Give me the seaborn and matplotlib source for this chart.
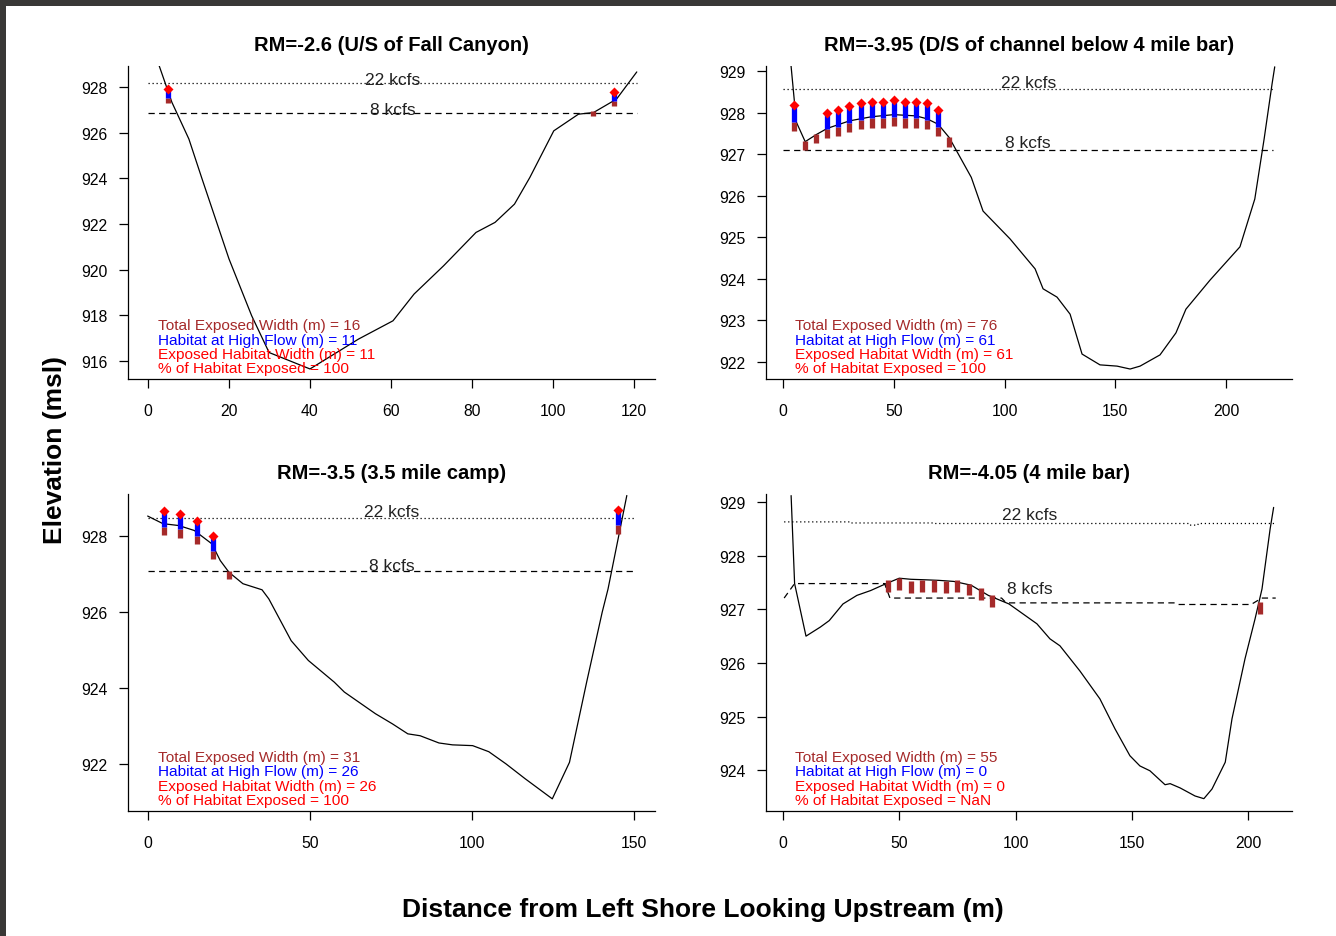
import numpy as np
import matplotlib
matplotlib.use("Agg")
import matplotlib.pyplot as plt
import matplotlib.patches as mpatches
import seaborn as sns

sns.set_theme(style="ticks")
plt.rcParams['font.family'] = ['Liberation Sans', 'DejaVu Sans']

# ---------------- data ----------------
titles = ["RM=-2.6 (U/S of Fall Canyon)",
          "RM=-3.95 (D/S of channel below 4 mile bar)",
          "RM=-3.5 (3.5 mile camp)",
          "RM=-4.05 (4 mile bar)"]

# Panel 1 profile
p1_x = [2.7, 5.9, 10.1, 13.3, 20.0, 25.6, 29.9, 40.0, 52.0, 60.5, 65.7, 73.0, 81.0, 85.7, 90.5, 94.3, 100.2, 106.3, 110.0, 115.7, 120.7]
p1_z = [928.96, 927.33, 925.72, 924.0, 920.47, 917.98, 916.37, 915.65, 916.96, 917.76, 918.93, 920.17, 921.63, 922.07, 922.87, 924.04, 926.08, 926.81, 926.88, 927.47, 928.66]
p1_q22_x = [0.0, 120.7]
p1_q22_z = [928.18, 928.18]
p1_q8_x = [0.0, 120.7]
p1_q8_z = [926.87, 926.87]
p1_sta_x = [5, 110, 115]
p1_sta_z = [927.52, 926.94, 927.40]
p1_sta_hab = [True, False, True]
p1_stats = ["16", "11", "11", "100"]

# Panel 2 profile
p2_x = [3.6, 6.0, 10.0, 15.0, 20.0, 30.0, 40.0, 50.0, 60.0, 65.0, 70.0, 75.0, 85.0, 90.3, 102.5, 113.8, 117.4, 123.7, 129.6, 135.0, 143.1, 150.8, 156.7, 161.2, 170.2, 177.4, 181.9, 192.8, 206.3, 213.0, 217.2, 220.8, 222.0]
p2_z = [929.13, 927.77, 927.30, 927.47, 927.62, 927.80, 927.90, 927.95, 927.92, 927.85, 927.72, 927.40, 926.44, 925.63, 924.96, 924.24, 923.76, 923.56, 923.15, 922.19, 921.93, 921.90, 921.83, 921.90, 922.17, 922.70, 923.27, 923.97, 924.77, 925.92, 927.36, 928.69, 929.1]
p2_q22_x = [0.0, 222.0]
p2_q22_z = [928.57, 928.57]
p2_q8_x = [0.0, 221.0]
p2_q8_z = [927.11, 927.11]
p2_sta_x = [5, 10, 15, 20, 25, 30, 35, 40, 45, 50, 55, 60, 65, 70, 75]
p2_sta_z = [927.78, 927.32, 927.48, 927.60, 927.66, 927.75, 927.82, 927.86, 927.86, 927.90, 927.86, 927.86, 927.82, 927.66, 927.40]
p2_sta_hab = [True, False, False, True, True, True, True, True, True, True, True, True, True, True, False]
p2_stats = ["76", "61", "61", "100"]

# Panel 3 profile
p3_x = [-0.1, 4.6, 9.5, 14.3, 19.7, 22.3, 25.0, 29.3, 35.2, 37.3, 44.2, 49.5, 57.5, 60.6, 64.3, 70.2, 75.5, 80.2, 84.0, 89.8, 94.0, 100.2, 105.2, 110.5, 116.4, 124.8, 130.1, 135.4, 140.2, 142.0, 147.8]
p3_z = [928.52, 928.32, 928.27, 928.14, 927.79, 927.35, 927.04, 926.74, 926.58, 926.34, 925.24, 924.72, 924.15, 923.89, 923.67, 923.32, 923.05, 922.79, 922.74, 922.55, 922.50, 922.48, 922.32, 922.00, 921.61, 921.08, 922.04, 924.15, 925.99, 926.60, 929.06]
p3_q22_x = [0.0, 150.5]
p3_q22_z = [928.47, 928.47]
p3_q8_x = [0.0, 150.5]
p3_q8_z = [927.07, 927.07]
p3_sta_x = [5, 10, 15, 20, 25, 145]
p3_sta_z = [928.24, 928.17, 928.00, 927.60, 927.08, 928.28]
p3_sta_hab = [True, True, True, True, False, True]
p3_stats = ["31", "26", "26", "100"]

# Panel 4 profile
p4_x = [3.5, 5.0, 9.9, 16.1, 19.9, 25.8, 31.8, 37.7, 44.4, 50.0, 55.0, 61.5, 67.0, 73.5, 80.9, 88.3, 97.2, 109.2, 114.8, 119.1, 127.7, 136.3, 142.8, 149.2, 153.5, 157.8, 164.3, 166.5, 170.8, 177.2, 181.0, 184.5, 190.2, 193.1, 198.7, 203.0, 206.0, 209.5, 211.0]
p4_z = [929.12, 927.48, 926.50, 926.67, 926.79, 927.10, 927.26, 927.35, 927.48, 927.58, 927.56, 927.55, 927.54, 927.52, 927.45, 927.26, 927.10, 926.73, 926.45, 926.32, 925.85, 925.33, 924.77, 924.27, 924.08, 923.99, 923.73, 923.75, 923.67, 923.52, 923.47, 923.65, 924.15, 924.96, 926.08, 926.82, 927.38, 928.50, 928.90]
p4_q22_x = [0.5, 28.8, 29.0, 64.5, 64.7, 174.6, 174.8, 178.4, 178.6, 211.9]
p4_q22_z = [928.63, 928.63, 928.61, 928.61, 928.60, 928.60, 928.57, 928.57, 928.60, 928.60]
p4_q8_x = [0.5, 5.0, 43.7, 46.0, 94.0, 96.0, 168.6, 170.0, 201.3, 205.9, 211.9]
p4_q8_z = [927.21, 927.48, 927.48, 927.21, 927.21, 927.12, 927.12, 927.09, 927.09, 927.21, 927.21]
p4_sta_x = [45, 50, 55, 60, 65, 70, 75, 80, 85, 90, 205]
p4_sta_z = [927.54, 927.58, 927.52, 927.54, 927.55, 927.52, 927.55, 927.48, 927.40, 927.26, 927.14]
p4_sta_hab = [False] * 11
p4_stats = ["55", "0", "0", "NaN"]

stat_labels = ["Total Exposed Width (m) = ", "Habitat at High Flow (m) = ",
               "Exposed Habitat Width (m) = ", "% of Habitat Exposed = "]

x_ticks = [np.arange(0, 121, 20), np.arange(0, 201, 50), np.arange(0, 151, 50), np.arange(0, 201, 50)]
y_ticks = [np.arange(916, 929, 2), np.arange(922, 930, 1), np.arange(922, 929, 2), np.arange(924, 930, 1)]

# ---------------- style ----------------
BROWN = "#A52A2A"
BLUE = "#0000FF"
RED = "#FF0000"
BROWN_LEN = 0.22
BLUE_LEN = 0.40

W, H = 1336, 937
fig = plt.figure(figsize=(W / 100, H / 100), dpi=100)
fig.patch.set_facecolor("white")

def frac_box(l, r, t, b):
    return [l / W, 1 - b / H, (r - l) / W, (b - t) / H]

boxes = [frac_box(128, 655, 67, 380), frac_box(766, 1292, 67, 380),
         frac_box(128, 655, 495, 812), frac_box(766, 1292, 495, 812)]
xlims = [(-4.94, 125.2), (-7.7, 229.8), (-6.17, 156.5), (-7.3, 218.9)]
ylims = [(915.21, 928.92), (921.59, 929.12), (920.76, 929.1), (923.24, 929.15)]

panels = [
    (p1_x, p1_z, p1_q22_x, p1_q22_z, p1_q8_x, p1_q8_z, p1_sta_x, p1_sta_z, p1_sta_hab, p1_stats),
    (p2_x, p2_z, p2_q22_x, p2_q22_z, p2_q8_x, p2_q8_z, p2_sta_x, p2_sta_z, p2_sta_hab, p2_stats),
    (p3_x, p3_z, p3_q22_x, p3_q22_z, p3_q8_x, p3_q8_z, p3_sta_x, p3_sta_z, p3_sta_hab, p3_stats),
    (p4_x, p4_z, p4_q22_x, p4_q22_z, p4_q8_x, p4_q8_z, p4_sta_x, p4_sta_z, p4_sta_hab, p4_stats),
]

for i, (px, pz, hx, hz, lx, lz, sx, sz, shab, stats) in enumerate(panels):
    ax = fig.add_axes(boxes[i])
    ax.set_facecolor("white")
    sns.lineplot(x=px, y=pz, sort=False, estimator=None, color="black", lw=0.9, ax=ax)
    sns.lineplot(x=hx, y=hz, sort=False, estimator=None, color="black", lw=0.9, ax=ax,
                 linestyle=(0, (1, 2.2)))
    sns.lineplot(x=lx, y=lz, sort=False, estimator=None, color="black", lw=0.9, ax=ax,
                 linestyle=(0, (5, 3.5)))
    # flow labels
    ax.text(np.mean([hx[0], hx[-1]]), np.mean(hz) + 0.16, "22 kcfs", ha="center", va="center",
            fontsize=12.5, color="#222222")
    ax.text(np.mean([lx[0], lx[-1]]), np.mean(lz) + 0.16, "8 kcfs", ha="center", va="center",
            fontsize=12.5, color="#222222")
    sx = np.asarray(sx, float)
    sz = np.asarray(sz, float)
    shab = np.asarray(shab, bool)
    ax.vlines(sx, sz - BROWN_LEN, sz, color=BROWN, lw=3.8, capstyle="butt", zorder=4)
    if shab.any():
        ax.vlines(sx[shab], sz[shab], sz[shab] + BLUE_LEN, color=BLUE, lw=3.8, capstyle="butt", zorder=4)
        sns.scatterplot(x=sx[shab], y=sz[shab] + BLUE_LEN, marker="D", s=26, color=RED,
                        edgecolor=RED, linewidth=0, ax=ax, zorder=5)
    # stats text
    cols = [BROWN, BLUE, RED, RED]
    offs = [54, 39.5, 25, 10.5]
    for lab, val, c, o in zip(stat_labels, stats, cols, offs):
        ax.annotate(lab + val, xy=(0.056, 0), xycoords="axes fraction",
                    xytext=(0, o * 0.72), textcoords="offset points",
                    ha="left", va="center", fontsize=11.1, color=c)
    ax.set_xlim(*xlims[i])
    ax.set_ylim(*ylims[i])
    ax.set_xticks(x_ticks[i])
    ax.set_yticks(y_ticks[i])
    ax.set_xticklabels([str(v) for v in x_ticks[i]])
    ax.set_yticklabels([str(v) for v in y_ticks[i]])
    ax.set_xlabel("")
    ax.set_ylabel("")
    for s in ["top", "right"]:
        ax.spines[s].set_visible(False)
    for s in ["left", "bottom"]:
        ax.spines[s].set_color("black")
        ax.spines[s].set_linewidth(0.9)
    ax.tick_params(axis="both", direction="out", length=6.5, width=0.9, color="black",
                   labelsize=11.3, labelcolor="black")
    ax.tick_params(axis="x", pad=10.5)
    ax.tick_params(axis="y", pad=8)
    ax.grid(False)
    ax.annotate(titles[i], xy=(0.5, 1), xycoords="axes fraction", xytext=(0, 15.5),
                textcoords="offset points", ha="center", va="center",
                fontsize=14.5, fontweight="bold", color="black")

fig.text(55 / W, 1 - 450 / H, "Elevation (msl)", rotation=90, ha="center", va="center",
         fontsize=19, fontweight="bold", color="black")
fig.text(703 / W, 1 - 910 / H, "Distance from Left Shore Looking Upstream (m)", ha="center",
         va="center", fontsize=19, fontweight="bold", color="black")

# screenshot frame
fig.patches.append(mpatches.Rectangle((0, 1 - 7 / H), 1, 7 / H, transform=fig.transFigure,
                                      facecolor="#393836", edgecolor="none", zorder=10))
fig.patches.append(mpatches.Rectangle((0, 0), 6 / W, 1, transform=fig.transFigure,
                                      facecolor="#393836", edgecolor="none", zorder=10))

fig.savefig("out.png", dpi=100, facecolor="white")
